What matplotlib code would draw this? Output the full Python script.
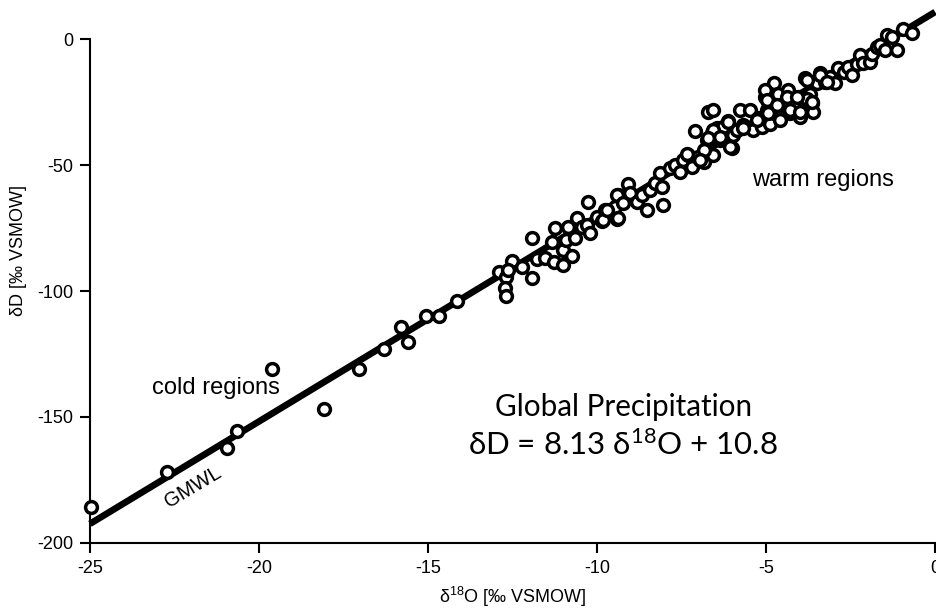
import numpy as np
import matplotlib
matplotlib.use("Agg")
import matplotlib.pyplot as plt

plt.rcParams['font.family'] = ['Liberation Sans', 'DejaVu Sans']
plt.rcParams['axes.unicode_minus'] = False

# Niederschlagsdaten (δ18O, δD) in ‰ VSMOW
d18o = [-24.97, -22.71, -20.96, -20.66, -19.61, -18.08, -17.03, -16.29, -15.81, -15.58,
        -15.06, -14.67, -14.13, -12.90, -12.69, -12.72, -12.70, -12.53, -12.62, -12.23,
        -11.93, -11.93, -11.78, -11.54, -11.34, -11.27, -11.24, -11.00, -11.00, -10.93,
        -10.85, -10.75, -10.65, -10.60, -10.45, -10.31, -10.26, -10.21, -10.01, -9.86,
        -9.76, -9.47, -9.42, -9.37, -9.81, -9.71, -9.42, -9.37, -9.22, -9.07,
        -9.02, -8.83, -8.68, -8.53, -8.43, -8.28, -8.14, -8.09, -8.04, -7.84,
        -7.69, -7.54, -7.45, -7.30, -7.20, -7.10, -7.00, -6.85, -6.80, -6.75,
        -6.71, -6.56, -6.61, -6.56, -6.46, -6.36, -6.26, -6.12, -6.02, -5.97,
        -5.87, -5.77, -5.67, -5.47, -5.38, -5.23, -5.13, -5.03, -4.98, -4.88,
        -4.78, -4.78, -5.03, -4.98, -4.88, -4.64, -4.54, -4.34, -4.29, -4.14,
        -4.04, -3.90, -3.85, -3.70, -3.65, -3.60, -3.50, -3.40, -3.25, -3.11,
        -2.96, -2.86, -2.71, -2.57, -2.47, -2.32, -2.22, -2.12, -1.92, -1.87,
        -1.72, -1.63, -1.48, -1.43, -1.28, -1.13, -0.94, -0.69, -3.80, -3.99,
        -6.56, -6.71, -6.36, -6.12, -6.07, -5.67, -5.28, -4.93, -4.69, -4.59,
        -4.39, -4.29, -4.09, -3.99, -3.80, -3.65, -3.40, -3.20, -7.35, -6.85,
        -6.95]
dD = [-185.7, -171.9, -162.4, -155.4, -131.1, -146.7, -131.1, -123.1, -114.2, -120.1,
      -109.8, -109.8, -104.0, -92.3, -94.3, -98.9, -101.8, -88.0, -91.7, -90.3,
      -79.1, -94.7, -87.3, -87.0, -80.4, -88.4, -75.1, -83.7, -89.7, -79.8,
      -74.7, -86.1, -79.1, -71.2, -74.5, -73.8, -64.8, -77.1, -70.5, -72.1,
      -67.9, -66.5, -71.6, -61.9, -71.8, -67.9, -61.9, -71.2, -65.2, -57.7,
      -61.2, -64.6, -61.9, -67.9, -59.9, -57.3, -53.3, -58.6, -65.9, -51.3,
      -50.0, -52.6, -48.0, -46.0, -50.7, -36.5, -46.7, -48.7, -44.0, -40.1,
      -28.8, -28.2, -37.4, -46.0, -35.4, -40.1, -34.8, -32.5, -43.4, -38.1,
      -36.1, -28.2, -34.1, -28.2, -36.1, -31.5, -34.8, -22.9, -28.2, -33.5,
      -17.6, -25.5, -20.2, -24.2, -28.8, -21.6, -26.2, -20.2, -29.5, -24.9,
      -22.9, -28.2, -15.6, -21.6, -25.5, -28.8, -17.6, -13.4, -16.9, -15.0,
      -17.3, -11.6, -13.0, -11.0, -14.3, -9.7, -6.3, -9.6, -9.0, -5.7,
      -3.1, -2.4, -4.4, 1.6, 0.9, -4.4, 4.2, 2.3, -23.8, -30.8,
      -36.1, -39.4, -38.8, -32.8, -42.7, -35.4, -32.1, -29.5, -26.2, -32.1,
      -22.9, -28.2, -22.9, -28.8, -16.3, -24.9, -14.3, -16.9, -45.4, -44.0,
      -48.0]

# GMWL: δD = 8.13 δ18O + 10.8
slope = 8.13
intercept = 10.8
line_x = np.array([-25.0, 0.0])
line_y = slope * line_x + intercept

fig, ax = plt.subplots(figsize=(9.37, 6.12), dpi=100)
fig.subplots_adjust(left=0.096, right=0.998, bottom=0.113, top=0.936)

ax.plot(line_x, line_y, color='black', lw=4.8, solid_capstyle='butt', clip_on=False, zorder=2)
ax.plot(d18o, dD, 'o', ms=8.5, mfc='white', mec='black', mew=2.5, clip_on=False, zorder=3)

ax.set_xlim(-25, 0)
ax.set_ylim(-200, 0)
ax.set_xticks([-25, -20, -15, -10, -5, 0])
ax.set_yticks([0, -50, -100, -150, -200])

for side in ['top', 'right']:
    ax.spines[side].set_visible(False)
for side in ['left', 'bottom']:
    ax.spines[side].set_linewidth(1.5)
ax.tick_params(direction='out', length=7, width=1.5, labelsize=13, pad=5)

ax.set_xlabel(r'δ$\mathregular{^{18}}$O [‰ VSMOW]', fontsize=13, labelpad=6)
ax.set_ylabel('δD [‰ VSMOW]', fontsize=13)
ax.yaxis.set_label_coords(-0.075, 0.58)

# Beschriftungen
ax.text(-21.27, -138.5, 'cold regions', fontsize=17, ha='center', va='center')
ax.text(-3.31, -56, 'warm regions', fontsize=17, ha='center', va='center')
ax.text(-21.95, -177.8, 'GMWL', fontsize=14.5, ha='center', va='center', rotation=31)

eq_font = ['Lato', 'Open Sans', 'DejaVu Sans']
ax.text(-9.23, -146, 'Global Precipitation', fontsize=21.3, ha='center', va='center', family=eq_font)
ax.text(-9.23, -161, r'δD = 8.13 δ$\mathregular{^{18}}$O + 10.8', fontsize=22.5, ha='center', va='center',
        family=eq_font)

plt.savefig('out.png', dpi=100)
